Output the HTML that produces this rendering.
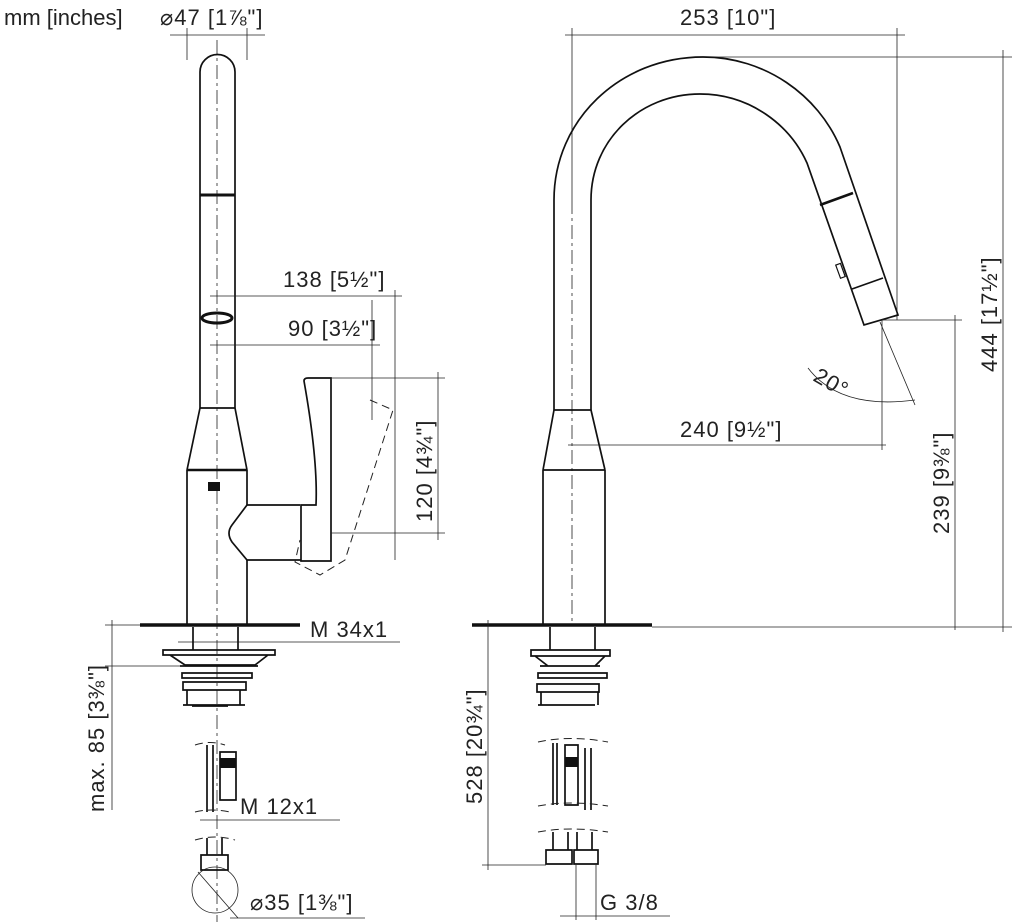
<!DOCTYPE html>
<html><head><meta charset="utf-8"><style>
html,body{margin:0;padding:0;background:#fff}
svg{display:block}
text{font-family:"Liberation Sans",sans-serif;fill:#222;font-size:22px;letter-spacing:1px}
.o{fill:none;stroke:#111;stroke-width:1.7}
.d{fill:none;stroke:#222;stroke-width:0.8}
.c{fill:none;stroke:#222;stroke-width:0.8;stroke-dasharray:14 4 3 4}
.h{fill:none;stroke:#222;stroke-width:1;stroke-dasharray:8 5}
</style></head><body>
<svg width="1024" height="922" viewBox="0 0 1024 922" xmlns="http://www.w3.org/2000/svg">
<text x="4" y="25" style="letter-spacing:0">mm [inches]</text>
<!-- LEFT FAUCET -->
<text x="160" y="25">⌀47 [1⅞"]</text>
<line class="d" x1="170" y1="35" x2="265" y2="35"/>
<line class="d" x1="187" y1="28" x2="187" y2="60"/><line class="d" x1="247" y1="28" x2="247" y2="60"/>
<line class="c" x1="217" y1="40" x2="217" y2="922"/>
<path class="o" d="M200,408 V72 A17.5,17.5 0 0 1 235,72 V408"/>
<line x1="200" y1="195" x2="235" y2="195" stroke="#111" stroke-width="3"/>
<ellipse cx="217" cy="318" rx="15" ry="5" fill="none" stroke="#111" stroke-width="3"/>
<path class="o" d="M200,408 L187,470 M235,408 L247,470 M200,408 H235"/>
<line x1="187" y1="470" x2="247" y2="470" stroke="#111" stroke-width="2.6"/>
<path class="o" d="M187,470 V625 M247,470 V505 M247,560 V625"/>
<rect x="208" y="482" width="12" height="9" fill="#111"/>
<path class="o" d="M247,505 H300 M247,505 L232,525 Q226,533 232,542 L247,560 H301"/>
<path class="o" d="M304,381 Q304,378 308,378 H331 V561 H301 V505 H316 Q318,460 304,381 Z M301,505 V561"/>
<path class="h" d="M370,400 L393,410 L345,560 L320,575 L295,562 L300,540"/>
<!-- dims left -->
<text x="283" y="287">138 [5½"]</text>
<line class="d" x1="210" y1="296" x2="402" y2="296"/>
<line class="d" x1="395" y1="290" x2="395" y2="560"/>
<text x="288" y="336">90 [3½"]</text>
<line class="d" x1="210" y1="345" x2="380" y2="345"/>
<line class="d" x1="372" y1="300" x2="372" y2="420"/>
<line class="d" x1="331" y1="378" x2="445" y2="378"/>
<line class="d" x1="331" y1="533" x2="445" y2="533"/>
<line class="d" x1="438" y1="372" x2="438" y2="540"/>
<text transform="translate(432,522) rotate(-90)">120 [4¾"]</text>
<!-- base left -->
<line x1="140" y1="625" x2="300" y2="625" stroke="#111" stroke-width="3.5"/>
<line class="d" x1="105" y1="625" x2="140" y2="625"/>
<text x="310" y="637">M 34x1</text>
<line class="d" x1="178" y1="642" x2="400" y2="642"/>
<path class="o" d="M193,627 V650 M238,627 V650"/>
<path class="o" d="M163,650 H275 V655 H163 Z M170,655 L185,665 H255 L268,655 M180,666 H258 M182,673 H252 V678 H182 Z M183,682 H246 V690 H183 Z M187,690 V705 M240,690 V705 M183,705 H245 M192,706 H228"/>
<line class="d" x1="105" y1="666" x2="185" y2="666"/>
<line class="d" x1="112" y1="620" x2="112" y2="810"/>
<text transform="translate(104,812) rotate(-90)">max. 85 [3⅜"]</text>
<path class="o" d="M207,745 V812 M213,745 V812 M220,752 H236 V800 H220 Z"/>
<rect x="220" y="758" width="16" height="10" fill="#111"/>
<path class="h" d="M195,745 Q210,740 225,745 M195,812 Q210,808 230,812 M195,840 Q215,834 235,840"/>
<text x="240" y="814">M 12x1</text>
<line class="d" x1="200" y1="820" x2="340" y2="820"/>
<path class="o" d="M207,838 V855 M222,838 V855 M201,855 H228 V870 H201 Z"/>
<circle class="d" cx="215" cy="890" r="23"/>
<line class="d" x1="198" y1="872" x2="238" y2="918"/>
<text x="250" y="910">⌀35 [1⅜"]</text>
<line class="d" x1="230" y1="918" x2="365" y2="918"/>
<!-- RIGHT FAUCET -->
<text x="680" y="25">253 [10"]</text>
<line class="d" x1="565" y1="35" x2="905" y2="35"/>
<line class="d" x1="572" y1="28" x2="572" y2="200"/>
<line class="d" x1="897" y1="28" x2="897" y2="320"/>
<line class="d" x1="700" y1="57" x2="1012" y2="57"/>
<line class="d" x1="1003" y1="50" x2="1003" y2="632"/>
<text transform="translate(997,372) rotate(-90)">444 [17½"]</text>
<path class="o" d="M554,410 V200 C554,120 620,57 703,57 C765,57 818,95 840,147 L898,315 L864,325 L807,163 C790,125 750,94 700,94 C640,94 591,140 591,200 V410"/>
<line x1="820" y1="205" x2="853" y2="193" stroke="#111" stroke-width="2.6"/>
<line class="o" x1="852" y1="289" x2="883" y2="278"/>
<rect x="838" y="264" width="5" height="14" fill="none" stroke="#111" stroke-width="1.2" transform="rotate(-20 840 271)"/>
<line class="c" x1="572" y1="200" x2="572" y2="625"/>
<path class="o" d="M554,410 H591 M554,410 L543,470 M591,410 L605,470 M543,470 H605 M543,470 V625 M605,470 V625"/>
<line class="d" x1="882" y1="320" x2="962" y2="320"/>
<line class="d" x1="955" y1="315" x2="955" y2="630"/>
<text transform="translate(949,534) rotate(-90)">239 [9⅜"]</text>
<line class="d" x1="882" y1="320" x2="882" y2="450"/>
<line class="d" x1="880" y1="322" x2="915" y2="405"/>
<path class="d" d="M808,368 Q840,410 915,400"/>
<text transform="translate(812,380) rotate(30)">20°</text>
<text x="680" y="437">240 [9½"]</text>
<line class="d" x1="568" y1="445" x2="886" y2="445"/>
<!-- base right -->
<line x1="472" y1="625" x2="652" y2="625" stroke="#111" stroke-width="3.5"/>
<line class="d" x1="652" y1="627" x2="1012" y2="627"/>
<path class="o" d="M550,627 V650 M595,627 V650"/>
<path class="o" d="M531,650 H610 V656 H531 Z M535,656 L548,666 H595 L605,656 M540,666 H600 M538,673 H607 V678 H538 Z M537,684 H599 V692 H537 Z M541,692 V705 M598,692 V705 M538,705 H595"/>
<line class="d" x1="488" y1="620" x2="488" y2="870"/>
<text transform="translate(482,804) rotate(-90)">528 [20¾"]</text>
<path class="o" d="M553,743 V805 M557,743 V805 M565,745 H578 V805 H565 Z M585,748 V810 M591,748 V810"/>
<rect x="565" y="757" width="13" height="10" fill="#111"/>
<path class="h" d="M538,742 Q570,735 608,742 M538,806 Q570,800 608,806 M538,832 Q570,826 608,832"/>
<path class="o" d="M553,832 V850 M568,832 V850 M577,832 V850 M592,832 V850 M546,850 H572 V864 H546 Z M574,850 H598 V864 H574 Z"/>
<line class="d" x1="482" y1="865" x2="546" y2="865"/>
<line class="d" x1="576" y1="865" x2="576" y2="920"/>
<line class="d" x1="596" y1="865" x2="596" y2="920"/>
<text x="600" y="910">G 3/8</text>
<line class="d" x1="560" y1="916" x2="670" y2="916"/>
</svg>
</body></html>
